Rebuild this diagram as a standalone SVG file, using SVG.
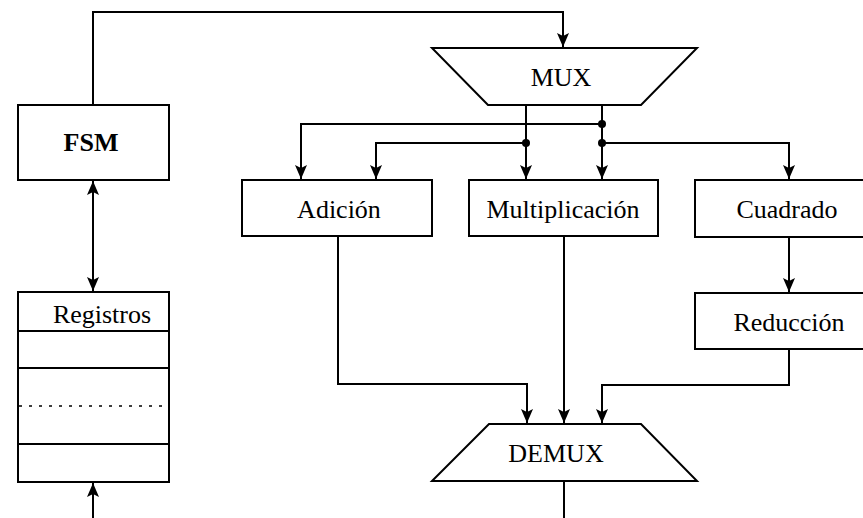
<svg xmlns="http://www.w3.org/2000/svg" width="863" height="518" viewBox="0 0 863 518">
  <style>
    .box { fill: #fff; stroke: #000; stroke-width: 2; }
    .wire { fill: none; stroke: #000; stroke-width: 2; }
    .dot { fill: #000; }
    text { font-family: 'Liberation Serif', 'Times New Roman', Times, 'DejaVu Serif', serif; font-size: 26px; text-anchor: middle; fill: #000; }
  </style>
  <defs>
    <marker id="arr" markerUnits="userSpaceOnUse" markerWidth="14" markerHeight="12" viewBox="0 0 14 12" refX="14" refY="6" orient="auto-start-reverse">
      <path d="M0,0 L14,6 L0,12 L3,6 z" fill="#000"/>
    </marker>
  </defs>

  <!-- connectors -->
  <g id="connectors">
    <path class="wire" d="M93,105 V12 H563 V47" marker-end="url(#arr)"/>
    <path class="wire" d="M93,181 V291" marker-start="url(#arr)" marker-end="url(#arr)"/>
    <path class="wire" d="M93,518 V483" marker-end="url(#arr)"/>
    <!-- MUX fan-out -->
    <path class="wire" d="M526,105 V179" marker-end="url(#arr)"/>
    <path class="wire" d="M602,105 V179" marker-end="url(#arr)"/>
    <path class="wire" d="M602,124 H301 V179" marker-end="url(#arr)"/>
    <path class="wire" d="M526,143 H376 V179" marker-end="url(#arr)"/>
    <path class="wire" d="M602,143 H789 V179" marker-end="url(#arr)"/>
    <circle class="dot" cx="602" cy="124" r="4"/>
    <circle class="dot" cx="526" cy="143" r="4"/>
    <circle class="dot" cx="602" cy="143" r="4"/>
    <!-- into DEMUX -->
    <path class="wire" d="M789,237 V292" marker-end="url(#arr)"/>
    <path class="wire" d="M338,237 V384 H527 V423" marker-end="url(#arr)"/>
    <path class="wire" d="M564,237 V423" marker-end="url(#arr)"/>
    <path class="wire" d="M789,349 V385 H602 V423" marker-end="url(#arr)"/>
    <path class="wire" d="M564,481 V518"/>
  </g>

  <g id="fsm">
    <rect class="box" x="18" y="105" width="151" height="75"/>
    <text x="91" y="151" font-weight="bold">FSM</text>
  </g>

  <g id="registros">
    <rect class="box" x="18" y="292" width="151" height="190"/>
    <line class="wire" x1="18" y1="331" x2="169" y2="331"/>
    <line class="wire" x1="18" y1="368" x2="169" y2="368"/>
    <line class="wire" x1="18" y1="444" x2="169" y2="444"/>
    <line x1="19" y1="406" x2="162" y2="406" stroke="#000" stroke-width="1.5" stroke-dasharray="3,7"/>
    <text x="102" y="323">Registros</text>
  </g>

  <g id="mux">
    <polygon class="box" points="432,48 697,48 641,105 488,105"/>
    <text x="561" y="86">MUX</text>
  </g>

  <g id="adicion">
    <rect class="box" x="242" y="180" width="190" height="56"/>
    <text x="339" y="218">Adición</text>
  </g>

  <g id="multiplicacion">
    <rect class="box" x="469" y="180" width="189" height="56"/>
    <text x="563" y="218">Multiplicación</text>
  </g>

  <g id="cuadrado">
    <rect class="box" x="695" y="180" width="190" height="57"/>
    <text x="787" y="218">Cuadrado</text>
  </g>

  <g id="reduccion">
    <rect class="box" x="695" y="293" width="190" height="56"/>
    <text x="789" y="331">Reducción</text>
  </g>

  <g id="demux">
    <polygon class="box" points="489,424 641,424 697,481 432,481"/>
    <text x="556" y="462">DEMUX</text>
  </g>
</svg>
